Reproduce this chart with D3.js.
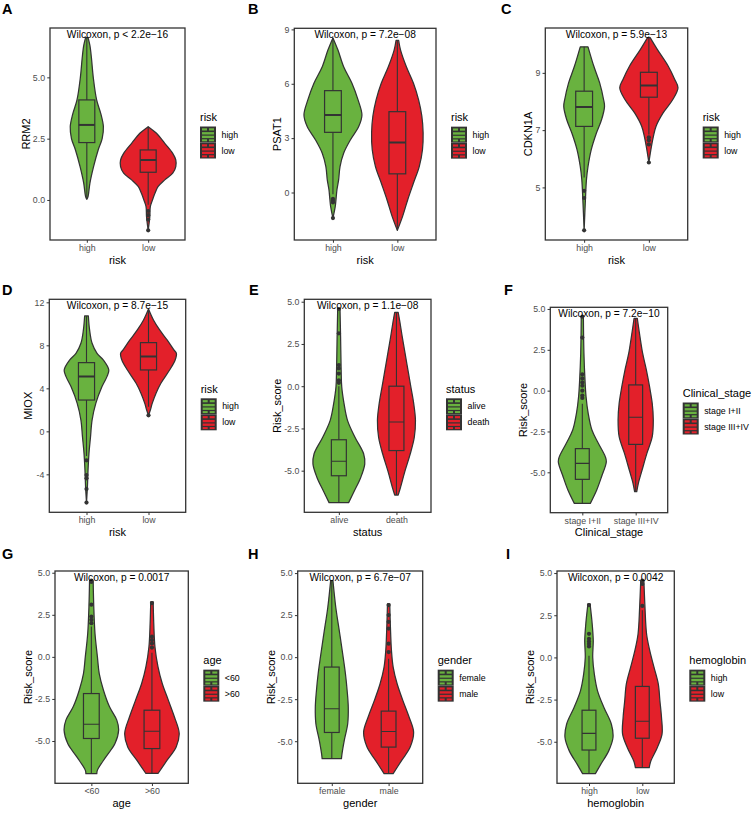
<!DOCTYPE html>
<html><head><meta charset="utf-8">
<script src="https://cdn.jsdelivr.net/npm/d3@7"></script>
<style>
body{margin:0;background:#fff}
svg{display:block}
text{font-family:"Liberation Sans",Arial,Helvetica,sans-serif}
</style>
</head><body>
<svg id="chart" width="753" height="813"></svg>
<script>
// ---------------- DATA ----------------
const panelLetters = ["A","B","C","D","E","F","G","H","I"];
const yTitles = ["RRM2","PSAT1","CDKN1A","MIOX","Risk_score","Risk_score","Risk_score","Risk_score","Risk_score"];
const groupTitles = ["risk","risk","risk","risk","status","Clinical_stage","age","gender","hemoglobin"];
const categories = [["high","low"],["high","low"],["high","low"],["high","low"],["alive","death"],
  ["stage I+II","stage III+IV"],["<60",">60"],["female","male"],["high","low"]];
const pLabels = ["Wilcoxon, p < 2.2e\u221216","Wilcoxon, p = 7.2e\u221208","Wilcoxon, p = 5.9e\u221213",
  "Wilcoxon, p = 8.7e\u221215","Wilcoxon, p = 1.1e\u221208","Wilcoxon, p = 7.2e\u221210",
  "Wilcoxon, p = 0.0017","Wilcoxon, p = 6.7e\u221207","Wilcoxon, p = 0.0042"];
const yTicks = [[0,2.5,5],[0,3,6,9],[5,7,9],[-4,0,4,8,12],[-5,-2.5,0,2.5,5],[-5,-2.5,0,2.5,5],
  [-5,-2.5,0,2.5,5],[-5,-2.5,0,2.5,5],[-5,-2.5,0,2.5,5]];
const yTickDecimals = [1,0,0,0,1,1,1,1,1];

// box stats per group: [whiskerLow, q1, median, q3, whiskerHigh]
const boxStats = [
  [[0.03,2.34,3.06,4.08,6.62],[-0.2,1.13,1.63,2.04,2.99]],
  [[-0.1,3.32,4.28,5.62,8.53],[-2.09,1.03,2.76,4.46,8.4]],
  [[5.35,7.13,7.81,8.36,9.91],[6.85,8.15,8.56,9.02,10.23]],
  [[-2.3,2.91,5.09,6.39,10.73],[2.29,5.71,6.95,8.25,11.3]],
  [[-6.89,-5.3,-4.44,-3.17,0.0],[-6.44,-3.81,-2.12,0.0,4.37]],
  [[-6.9,-5.43,-4.45,-3.55,-0.8],[-6.18,-3.29,-1.63,0.35,4.43]],
  [[-6.94,-4.85,-4.0,-2.18,1.8],[-6.93,-5.45,-4.42,-3.17,0.25]],
  [[-6.04,-4.48,-3.07,-0.59,4.55],[-6.93,-5.35,-4.42,-3.21,-0.1]],
  [[-6.89,-5.49,-4.5,-3.13,0.1],[-6.53,-4.79,-3.78,-1.72,2.8]]
];
const outliers = [
  [[],[-0.45,-0.62,-0.8,-1.24]],
  [[-0.35,-0.45,-0.55,-1.41],[]],
  [[4.88,4.63,3.5],[6.75,6.65,6.5,5.87]],
  [[-2.7,-4.06,-4.37,-5.36,-6.63],[1.49]],
  [[0.2,0.35,0.75,1.05,1.25,3.13,4.57],[]],
  [[-0.45,-0.3,0.0,0.3,0.5,0.75,1.0,3.25,4.53],[]],
  [[2.0,2.2,2.4,3.1,4.45,4.53],[0.55,0.8,1.0,1.2,3.2]],
  [[],[0.3,0.8,1.7,2.1,2.5,3.1]],
  [[0.65,0.8,0.95,1.1,1.4,3.1],[3.05,4.35,4.55]]
];
// violin profiles: [value, half-width in category units]
const violins = [
  [[[0.03,0],[0.14,0.02],[0.68,0.05],[1.36,0.11],[2.04,0.185],[2.5,0.25],[2.99,0.27],[3.5,0.23],[4.08,0.16],[5.0,0.105],[5.8,0.075],[6.3,0.05],[6.62,0.02]],
   [[-1.24,0],[-0.68,0.027],[-0.27,0.035],[0.0,0.07],[0.27,0.11],[0.54,0.16],[0.82,0.27],[1.09,0.40],[1.36,0.45],[1.63,0.45],[1.9,0.40],[2.31,0.27],[2.72,0.136],[2.99,0]]],
  [[[-1.41,0],[-0.77,0.036],[-0.4,0.047],[0.15,0.062],[0.7,0.088],[1.43,0.11],[2.17,0.166],[2.9,0.27],[3.64,0.40],[4.28,0.45],[5.11,0.39],[6.03,0.295],[6.94,0.166],[7.86,0.078],[8.53,0]],
   [[-2.09,0],[-1.33,0.08],[-0.41,0.16],[0.52,0.25],[1.43,0.34],[2.36,0.39],[3.3,0.40],[4.22,0.38],[5.11,0.33],[6.03,0.25],[6.94,0.14],[7.86,0.05],[8.4,0.02]]],
  [[[3.5,0],[4.57,0.02],[5.27,0.036],[5.73,0.06],[6.32,0.11],[6.9,0.19],[7.37,0.27],[7.83,0.315],[8.07,0.30],[8.65,0.24],[9.23,0.15],[9.91,0.06]],
   [[5.87,0],[6.43,0.04],[6.78,0.07],[7.13,0.11],[7.6,0.22],[8.07,0.37],[8.48,0.45],[8.77,0.40],[9.23,0.30],[9.82,0.13],[10.23,0.02]]],
  [[[-6.63,0],[-5.15,0.015],[-3.6,0.025],[-2.05,0.04],[-0.5,0.065],[1.05,0.09],[2.6,0.15],[4.16,0.25],[5.09,0.33],[5.7,0.36],[6.64,0.27],[7.26,0.17],[8.19,0.09],[9.43,0.05],[10.73,0.03]],
   [[1.49,0],[1.98,0.03],[2.6,0.06],[3.53,0.12],[4.47,0.2],[5.7,0.34],[6.64,0.43],[7.26,0.45],[7.57,0.41],[8.5,0.30],[9.43,0.18],[10.36,0.08],[11.38,0]]],
  [[[-6.89,0.17],[-6.19,0.27],[-5.4,0.38],[-4.6,0.45],[-4.0,0.43],[-3.02,0.28],[-2.02,0.15],[-1.03,0.09],[-0.04,0.05],[0.95,0.04],[2.94,0.03],[4.57,0.02]],
   [[-6.44,0.03],[-6.0,0.07],[-5.0,0.15],[-4.0,0.24],[-3.02,0.31],[-2.02,0.33],[-1.03,0.30],[-0.04,0.25],[0.95,0.2],[1.94,0.15],[2.94,0.1],[3.8,0.06],[4.37,0.03]]],
  [[[-6.9,0.15],[-6.08,0.27],[-5.27,0.36],[-4.35,0.45],[-4.04,0.43],[-3.22,0.3],[-2.41,0.18],[-1.39,0.11],[-0.37,0.07],[0.65,0.05],[2.29,0.03],[4.53,0.02]],
   [[-6.18,0.02],[-5.67,0.05],[-4.86,0.12],[-3.84,0.21],[-2.82,0.31],[-1.8,0.33],[-0.78,0.31],[0.24,0.26],[1.27,0.2],[2.29,0.13],[3.31,0.08],[4.43,0.03]]],
  [[[-6.94,0.09],[-6.73,0.1],[-5.94,0.24],[-5.15,0.39],[-4.36,0.45],[-3.76,0.42],[-2.97,0.3],[-1.98,0.2],[-0.99,0.13],[0,0.1],[1.39,0.06],[2.97,0.04],[4.53,0.03]],
   [[-6.93,0.1],[-6.14,0.25],[-5.35,0.40],[-4.55,0.45],[-3.56,0.37],[-2.57,0.27],[-1.58,0.17],[-0.59,0.1],[0.59,0.05],[1.98,0.03],[3.27,0.02]]],
  [[[-6.04,0.17],[-5.74,0.18],[-4.95,0.22],[-3.96,0.28],[-2.97,0.29],[-1.98,0.27],[-0.99,0.24],[0,0.2],[1.39,0.14],[2.97,0.07],[4.55,0.02]],
   [[-6.93,0.08],[-6.14,0.23],[-5.35,0.38],[-4.46,0.44],[-3.56,0.36],[-2.57,0.25],[-1.58,0.15],[-0.59,0.08],[0.4,0.05],[1.98,0.03],[3.17,0.02]]],
  [[[-6.89,0.12],[-6.34,0.22],[-5.54,0.37],[-4.75,0.45],[-3.96,0.42],[-2.97,0.28],[-1.98,0.16],[-0.99,0.1],[0,0.07],[0.99,0.08],[1.98,0.06],[3.17,0.02]],
   [[-6.53,0.13],[-6.14,0.16],[-5.35,0.28],[-4.55,0.37],[-3.56,0.36],[-2.57,0.33],[-1.58,0.3],[-0.59,0.22],[0.4,0.14],[1.39,0.08],[2.97,0.05],[4.55,0.03]]]
];

// ---------------- LAYOUT / STYLE ----------------
const layout = [
  {x0:50,   x1:185,   y0:28,    y1:240,   lx:2,   ly:14,  med:2},
  {x0:294.3,x1:436,   y0:28.3,  y1:240,   lx:248, ly:14,  med:2},
  {x0:545.3,x1:687.7, y0:28,    y1:240,   lx:501, ly:14,  med:2},
  {x0:49.3, x1:185.7, y0:299.3, y1:512.3, lx:2,   ly:295, med:2},
  {x0:304.3,x1:431,   y0:299.3, y1:512.3, lx:249, ly:295, med:1.1},
  {x0:550.3,x1:667.7, y0:307.3, y1:512.7, lx:504, ly:295, med:1.1},
  {x0:55,   x1:188.3, y0:571,   y1:783.3, lx:2,   ly:559, med:1.1},
  {x0:297.7,x1:422.7, y0:571,   y1:783.3, lx:248, ly:559, med:1.1},
  {x0:557,  x1:674.3, y0:571,   y1:783.3, lx:506, ly:559, med:1.1}
];
const fillColors = ["#69b23f","#e3202a"];
const dark = "#333333";
const boxWidth = 0.26;

const svg = d3.select("#chart");

panelLetters.forEach((letter, i) => {
  const L = layout[i];
  const g = svg.append("g");

  // y domain from data extents + 5% expansion
  const allVals = [];
  violins[i].forEach(v => v.forEach(p => allVals.push(p[0])));
  outliers[i].forEach(o => o.forEach(v => allVals.push(v)));
  boxStats[i].forEach(b => b.forEach(v => allVals.push(v)));
  const lo = d3.min(allVals), hi = d3.max(allVals);
  const pad = (hi - lo) * 0.05;
  const y = d3.scaleLinear().domain([lo - pad, hi + pad]).range([L.y1, L.y0]);
  const x = d3.scalePoint().domain(categories[i]).range([L.x0, L.x1]).padding(0.6);
  const unit = x.step();

  // panel letter
  g.append("text").attr("x", L.lx).attr("y", L.ly).attr("font-size", 14.5)
    .attr("font-weight", "bold").attr("fill", "#000").text(letter);

  // clip
  const clipId = "clip" + i;
  g.append("clipPath").attr("id", clipId).append("rect")
    .attr("x", L.x0).attr("y", L.y0).attr("width", L.x1 - L.x0).attr("height", L.y1 - L.y0);
  const plot = g.append("g").attr("clip-path", `url(#${clipId})`);

  categories[i].forEach((cat, k) => {
    const cx = x(cat);
    const prof = violins[i][k];
    const area = d3.area()
      .y(d => y(d[0]))
      .x0(d => cx - d[1] * unit)
      .x1(d => cx + d[1] * unit)
      .curve(d3.curveCatmullRom.alpha(0.5));
    plot.append("path").attr("d", area(prof))
      .attr("fill", fillColors[k]).attr("stroke", dark).attr("stroke-width", 1.25)
      .attr("stroke-linejoin", "round");

    const [wl, q1, md, q3, wh] = boxStats[i][k];
    const bw = boxWidth * unit;
    plot.append("line").attr("x1", cx).attr("x2", cx).attr("y1", y(q3)).attr("y2", y(wh))
      .attr("stroke", dark).attr("stroke-width", 1.1);
    plot.append("line").attr("x1", cx).attr("x2", cx).attr("y1", y(q1)).attr("y2", y(wl))
      .attr("stroke", dark).attr("stroke-width", 1.1);
    plot.append("rect").attr("x", cx - bw / 2).attr("width", bw)
      .attr("y", y(q3)).attr("height", y(q1) - y(q3))
      .attr("fill", fillColors[k]).attr("stroke", dark).attr("stroke-width", 1.2);
    plot.append("line").attr("x1", cx - bw / 2).attr("x2", cx + bw / 2)
      .attr("y1", y(md)).attr("y2", y(md)).attr("stroke", dark).attr("stroke-width", L.med);
    outliers[i][k].forEach(v => {
      plot.append("circle").attr("cx", cx).attr("cy", y(v)).attr("r", 2.1).attr("fill", dark);
    });
  });

  // panel border
  g.append("rect").attr("x", L.x0).attr("y", L.y0).attr("width", L.x1 - L.x0)
    .attr("height", L.y1 - L.y0).attr("fill", "none").attr("stroke", dark).attr("stroke-width", 1.3);

  // y axis
  const fmt = d3.format("." + yTickDecimals[i] + "f");
  const yAxis = g.append("g").attr("transform", `translate(${L.x0},0)`)
    .call(d3.axisLeft(y).tickValues(yTicks[i]).tickSize(2.75).tickPadding(2.2)
      .tickFormat(d => fmt(d).replace("\u2212", "-")));
  yAxis.select(".domain").remove();
  yAxis.selectAll(".tick line").attr("stroke", dark).attr("stroke-width", 1);
  yAxis.selectAll(".tick text").attr("font-size", 8.8).attr("fill", "#4d4d4d")
    .attr("font-family", '"Liberation Sans",Arial,sans-serif');
  let maxW = 0;
  yAxis.selectAll(".tick text").each(function () { maxW = Math.max(maxW, this.getComputedTextLength()); });

  // x axis
  const xAxis = g.append("g").attr("transform", `translate(0,${L.y1})`)
    .call(d3.axisBottom(x).tickSize(2.75).tickPadding(2.2));
  xAxis.select(".domain").remove();
  xAxis.selectAll(".tick line").attr("stroke", dark).attr("stroke-width", 1);
  xAxis.selectAll(".tick text").attr("font-size", 8.8).attr("fill", "#4d4d4d")
    .attr("font-family", '"Liberation Sans",Arial,sans-serif');

  // axis titles
  const cxPanel = (L.x0 + L.x1) / 2, cyPanel = (L.y0 + L.y1) / 2;
  g.append("text").attr("x", cxPanel).attr("y", L.y1 + 19.5).attr("text-anchor", "middle")
    .attr("dominant-baseline", "central").attr("font-size", 11).attr("fill", "#000").text(groupTitles[i]);
  const ytx = L.x0 - 2.75 - 2.2 - maxW - 7;
  g.append("text").attr("transform", `translate(${ytx},${cyPanel}) rotate(-90)`)
    .attr("text-anchor", "middle").attr("dominant-baseline", "central")
    .attr("font-size", 11).attr("fill", "#000").text(yTitles[i]);

  // wilcoxon label
  g.append("text").attr("x", cxPanel).attr("y", y(hi) + 0.5).attr("text-anchor", "middle")
    .attr("font-size", 10.2).attr("fill", "#000").text(pLabels[i]);

  // legend
  const lgx = L.x1 + 15;
  const keysTop = cyPanel - 7.5;
  g.append("text").attr("x", lgx).attr("y", keysTop - 5.5).attr("font-size", 11)
    .attr("fill", "#000").text(groupTitles[i]);
  categories[i].forEach((cat, k) => {
    const ky = keysTop + k * 16;
    const kg = g.append("g").attr("transform", `translate(${lgx},${ky})`);
    kg.append("rect").attr("width", 16).attr("height", 16).attr("fill", dark);
    const c = fillColors[k];
    [[2, 1.8, 5, 2.2], [9, 1.8, 5, 2.2], [2, 5.6, 12, 2.4], [2, 9.2, 12, 2.4], [2, 12.8, 5, 2], [9, 12.8, 5, 2]]
      .forEach(r => kg.append("rect").attr("x", r[0]).attr("y", r[1]).attr("width", r[2]).attr("height", r[3]).attr("fill", c));
    g.append("text").attr("x", lgx + 21.5).attr("y", ky + 8).attr("dominant-baseline", "central")
      .attr("font-size", 8.8).attr("fill", "#000").text(cat);
  });
});
</script>
</body></html>
